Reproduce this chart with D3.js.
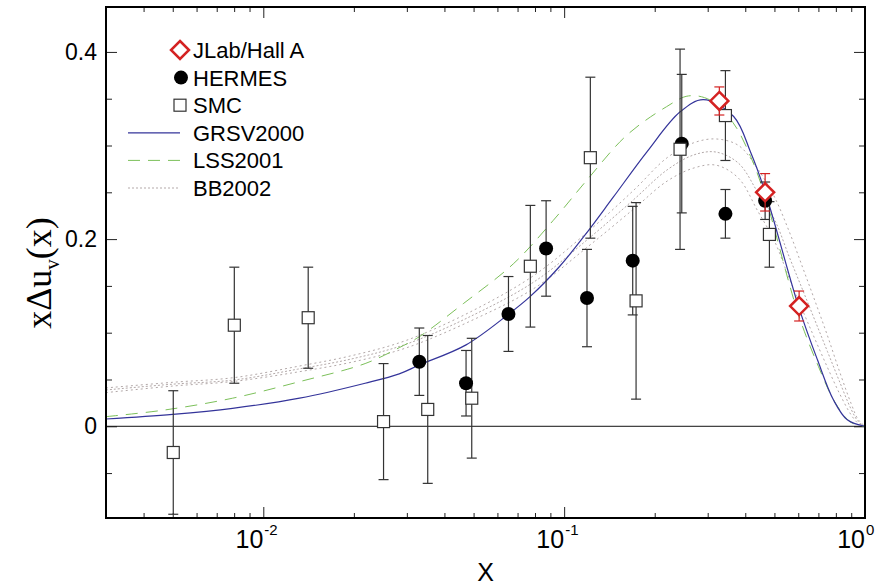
<!DOCTYPE html>
<html>
<head>
<meta charset="utf-8">
<script src="https://cdn.jsdelivr.net/npm/d3@7"></script>
<style>
  body { margin: 0; background: #fff; }
  svg { display: block; }
  text { font-family: "Liberation Sans", Arial, Helvetica, sans-serif; }
</style>
</head>
<body>
<div id="chart"></div>
<script>
// data
const smcX = [0.00502, 0.00801, 0.0141, 0.0251, 0.0352, 0.0493, 0.0772, 0.1222, 0.1734, 0.2428, 0.3436, 0.4812];
const smcY = [-0.028, 0.108, 0.116, 0.005, 0.018, 0.030, 0.171, 0.287, 0.134, 0.296, 0.332, 0.205];
const smcErr = [0.066, 0.062, 0.054, 0.062, 0.079, 0.064, 0.065, 0.086, 0.105, 0.107, 0.048, 0.035];

const hermesX = [0.033, 0.0472, 0.0653, 0.0871, 0.1191, 0.169, 0.246, 0.3436, 0.4656];
const hermesY = [0.069, 0.046, 0.120, 0.190, 0.137, 0.177, 0.302, 0.227, 0.241];
const hermesErr = [0.036, 0.035, 0.040, 0.051, 0.052, 0.058, 0.074, 0.026, 0.020];

const jlabX = [0.328, 0.4656, 0.604];
const jlabY = [0.3476, 0.250, 0.1285];
const jlabErr = [0.015, 0.020, 0.016];

const grsvX = [0.003, 0.005, 0.0079, 0.0132, 0.0218, 0.0283, 0.033, 0.0472, 0.0653, 0.077, 0.0967, 0.119, 0.1454, 0.1887, 0.243, 0.29, 0.366, 0.417, 0.466, 0.604, 0.695, 0.786, 0.873, 1.0];
const grsvY = [0.0078, 0.0128, 0.0192, 0.030, 0.046, 0.056, 0.0655, 0.087, 0.1197, 0.1385, 0.171, 0.207, 0.2445, 0.2935, 0.336, 0.349, 0.331, 0.2925, 0.250, 0.126, 0.071, 0.028, 0.007, 0.0];

const lssX = [0.003, 0.0047, 0.0079, 0.0132, 0.0218, 0.0283, 0.033, 0.0462, 0.068, 0.092, 0.119, 0.1615, 0.219, 0.259, 0.3056, 0.364, 0.417, 0.466, 0.6, 0.7, 0.8, 0.9, 1.0];
const lssY = [0.0103, 0.0174, 0.030, 0.0477, 0.067, 0.084, 0.0957, 0.131, 0.174, 0.220, 0.263, 0.311, 0.3415, 0.353, 0.3486, 0.3245, 0.288, 0.245, 0.120, 0.064, 0.024, 0.004, 0.0];

const bbX = [0.003, 0.005, 0.008, 0.013, 0.02, 0.03, 0.05, 0.08, 0.12, 0.17, 0.22, 0.27, 0.32, 0.38, 0.44, 0.5, 0.56, 0.62, 0.68, 0.75, 0.82, 0.9, 0.95, 1.0];
const bbY = [0.0388, 0.045, 0.0495, 0.061, 0.0725, 0.088, 0.119, 0.155, 0.200, 0.242, 0.274, 0.290, 0.293, 0.281, 0.250, 0.221, 0.181, 0.146, 0.114, 0.080, 0.049, 0.018, 0.005, 0.0];
const bbUpperY = [0.041, 0.047, 0.052, 0.064, 0.076, 0.092, 0.124, 0.162, 0.208, 0.252, 0.287, 0.303, 0.307, 0.300, 0.275, 0.245, 0.208, 0.170, 0.135, 0.097, 0.060, 0.024, 0.007, 0.0];
const bbLowerY = [0.036, 0.043, 0.048, 0.058, 0.069, 0.084, 0.114, 0.148, 0.192, 0.232, 0.262, 0.276, 0.279, 0.265, 0.230, 0.198, 0.158, 0.124, 0.094, 0.063, 0.036, 0.012, 0.003, 0.0];

const yTicks = [0, 0.2, 0.4];
const yTickLabels = ["0", "0.2", "0.4"];
const xTicks = [0.01, 0.1, 1];
const xTickExp = ["-2", "-1", "0"];
const legendLabels = ["JLab/Hall A", "HERMES", "SMC", "GRSV2000", "LSS2001", "BB2002"];

const width = 882, height = 585;
const pLeft = 106, pRight = 865, pTop = 7, pBottom = 518;
const blue = "#34349a", green = "#7cc05a", grey = "#b3a9a9", red = "#d42222";

const svg = d3.select("#chart").append("svg")
  .attr("width", width)
  .attr("height", height);

const x = d3.scaleLog().domain([0.003, 1]).range([pLeft, pRight]);
const y = d3.scaleLinear().domain([-0.098, 0.448]).range([pBottom, pTop]);

svg.append("clipPath").attr("id", "clip")
  .append("rect")
  .attr("x", pLeft).attr("y", pTop)
  .attr("width", pRight - pLeft).attr("height", pBottom - pTop);

// minor / major tick positions
const xMinor = [];
[0.001, 0.01, 0.1].forEach(d => {
  for (let k = 2; k <= 9; k++) {
    const v = d * k;
    if (v >= 0.003 && v < 1) xMinor.push(v);
  }
});
const yMinor = d3.range(-1, 9).filter(k => k % 4 !== 0).map(k => k * 0.05);

function tickAxis(axis, vals, size) {
  return axis.tickValues(vals).tickSize(size).tickFormat("").tickSizeOuter(0);
}

const axes = svg.append("g").attr("class", "axes");
const xMajor = xTicks.filter(v => v < 1);
axes.append("g").attr("transform", `translate(0,${pBottom})`).call(tickAxis(d3.axisBottom(x), xMajor, -11));
axes.append("g").attr("transform", `translate(0,${pBottom})`).call(tickAxis(d3.axisBottom(x), xMinor, -5));
axes.append("g").attr("transform", `translate(0,${pTop})`).call(tickAxis(d3.axisTop(x), xMajor, -11));
axes.append("g").attr("transform", `translate(0,${pTop})`).call(tickAxis(d3.axisTop(x), xMinor, -5));
axes.append("g").attr("transform", `translate(${pLeft},0)`).call(tickAxis(d3.axisLeft(y), yTicks, -11));
axes.append("g").attr("transform", `translate(${pLeft},0)`).call(tickAxis(d3.axisLeft(y), yMinor, -6));
axes.append("g").attr("transform", `translate(${pRight},0)`).call(tickAxis(d3.axisRight(y), yTicks, -11));
axes.append("g").attr("transform", `translate(${pRight},0)`).call(tickAxis(d3.axisRight(y), yMinor, -6));
axes.selectAll(".domain").remove();
axes.selectAll(".tick line").attr("stroke", "#222").attr("stroke-width", 1);

// zero line
svg.append("line")
  .attr("x1", pLeft).attr("x2", pRight)
  .attr("y1", y(0)).attr("y2", y(0))
  .attr("stroke", "#111").attr("stroke-width", 1);

// curves
const line = d3.line()
  .x(d => x(d[0]))
  .y(d => y(d[1]))
  .curve(d3.curveCatmullRom.alpha(0.5));

const curves = svg.append("g").attr("clip-path", "url(#clip)");
[bbLowerY, bbUpperY, bbY].forEach((ys, i) => {
  curves.append("path")
    .datum(bbX.map((v, j) => [v, ys[j]]))
    .attr("d", line)
    .attr("fill", "none")
    .attr("stroke", grey)
    .attr("stroke-width", 1)
    .attr("stroke-dasharray", i == 2 ? "2,2" : "2,3");
});
curves.append("path")
  .datum(lssX.map((v, j) => [v, lssY[j]]))
  .attr("d", line)
  .attr("fill", "none")
  .attr("stroke", green)
  .attr("stroke-width", 1)
  .attr("stroke-dasharray", "12,8");
curves.append("path")
  .datum(grsvX.map((v, j) => [v, grsvY[j]]))
  .attr("d", line)
  .attr("fill", "none")
  .attr("stroke", blue)
  .attr("stroke-width", 1.2);

// error bars
function errorBars(xs, ys, es, color) {
  const g = svg.append("g").attr("stroke", color).attr("stroke-width", 1.2);
  const data = xs.map((v, i) => ({ x: v, y: ys[i], e: es[i] }));
  g.selectAll(".bar").data(data).join("line")
    .attr("class", "bar")
    .attr("x1", d => x(d.x)).attr("x2", d => x(d.x))
    .attr("y1", d => y(d.y - d.e)).attr("y2", d => y(d.y + d.e));
  g.selectAll(".capt").data(data).join("line")
    .attr("class", "capt")
    .attr("x1", d => x(d.x) - 5).attr("x2", d => x(d.x) + 5)
    .attr("y1", d => y(d.y + d.e)).attr("y2", d => y(d.y + d.e));
  g.selectAll(".capb").data(data).join("line")
    .attr("class", "capb")
    .attr("x1", d => x(d.x) - 5).attr("x2", d => x(d.x) + 5)
    .attr("y1", d => y(d.y - d.e)).attr("y2", d => y(d.y - d.e));
}
errorBars(smcX, smcY, smcErr, "#333");
errorBars(hermesX, hermesY, hermesErr, "#333");

// markers
svg.append("g").selectAll("circle")
  .data(hermesX.map((v, i) => [v, hermesY[i]]))
  .join("circle")
  .attr("cx", d => x(d[0])).attr("cy", d => y(d[1]))
  .attr("r", 7)
  .attr("fill", "#000");

svg.append("g").selectAll("rect")
  .data(smcX.map((v, i) => [v, smcY[i]]))
  .join("rect")
  .attr("x", d => x(d[0]) - 6).attr("y", d => y(d[1]) - 6)
  .attr("width", 12).attr("height", 12)
  .attr("fill", "#fff")
  .attr("stroke", "#333").attr("stroke-width", 1.2);

errorBars(jlabX, jlabY, jlabErr, red);

const diamond = "M0,-9L9,0L0,9L-9,0Z";
svg.append("g").selectAll("path")
  .data(jlabX.map((v, i) => [v, jlabY[i]]))
  .join("path")
  .attr("transform", d => `translate(${x(d[0])},${y(d[1])})`)
  .attr("d", diamond)
  .attr("fill", "#fff")
  .attr("stroke", red).attr("stroke-width", 2.5);

// frame
svg.append("rect")
  .attr("x", pLeft).attr("y", pTop)
  .attr("width", pRight - pLeft).attr("height", pBottom - pTop)
  .attr("fill", "none")
  .attr("stroke", "#000").attr("stroke-width", 2);

// tick labels
svg.selectAll(".ylab").data(yTicks).join("text")
  .attr("class", "ylab")
  .attr("x", 97)
  .attr("y", d => y(d) + 8)
  .attr("text-anchor", "end")
  .attr("font-size", 23)
  .text((d, i) => yTickLabels[i]);

svg.selectAll(".xlab").data(xTicks).join("text")
  .attr("class", "xlab")
  .attr("x", d => x(d))
  .attr("y", 548)
  .attr("text-anchor", "end")
  .attr("font-size", 25)
  .text("10");
svg.selectAll(".xexp").data(xTicks).join("text")
  .attr("class", "xexp")
  .attr("x", d => x(d) + 1)
  .attr("y", 535)
  .attr("font-size", 15)
  .text((d, i) => xTickExp[i]);

// axis titles
svg.append("text")
  .attr("x", (pLeft + pRight) / 2)
  .attr("y", 581)
  .attr("text-anchor", "middle")
  .attr("font-size", 25)
  .text("X");

const yt = svg.append("text")
  .attr("transform", "translate(51,273) rotate(-90)")
  .attr("text-anchor", "middle")
  .style("font-family", "'Liberation Serif', 'Times New Roman', serif")
  .attr("font-size", 36);
yt.append("tspan").text("xΔu");
yt.append("tspan").attr("font-size", 21).attr("dy", 8).text("v");
yt.append("tspan").attr("dy", -8).text("(x)");

// legend
const legend = svg.append("g");
const rowY = legendLabels.map((d, i) => 50 + i * 27.6);
legend.selectAll("text").data(legendLabels).join("text")
  .attr("x", 193)
  .attr("y", (d, i) => rowY[i] + 8)
  .attr("font-size", 22)
  .text(d => d);

legend.append("path")
  .attr("transform", `translate(180,${rowY[0]})`)
  .attr("d", diamond)
  .attr("fill", "#fff")
  .attr("stroke", red).attr("stroke-width", 2.5);
legend.append("circle")
  .attr("cx", 181).attr("cy", rowY[1]).attr("r", 7)
  .attr("fill", "#000");
legend.append("rect")
  .attr("x", 174).attr("y", rowY[2] - 6)
  .attr("width", 12).attr("height", 12)
  .attr("fill", "#fff").attr("stroke", "#333").attr("stroke-width", 1.2);
legend.append("line")
  .attr("x1", 128).attr("x2", 180).attr("y1", rowY[3]).attr("y2", rowY[3])
  .attr("stroke", blue).attr("stroke-width", 1.2);
legend.append("line")
  .attr("x1", 128).attr("x2", 180).attr("y1", rowY[4]).attr("y2", rowY[4])
  .attr("stroke", green).attr("stroke-width", 1).attr("stroke-dasharray", "12,8");
legend.append("line")
  .attr("x1", 128).attr("x2", 180).attr("y1", rowY[5]).attr("y2", rowY[5])
  .attr("stroke", grey).attr("stroke-width", 1).attr("stroke-dasharray", "2,2");
</script>
</body>
</html>
